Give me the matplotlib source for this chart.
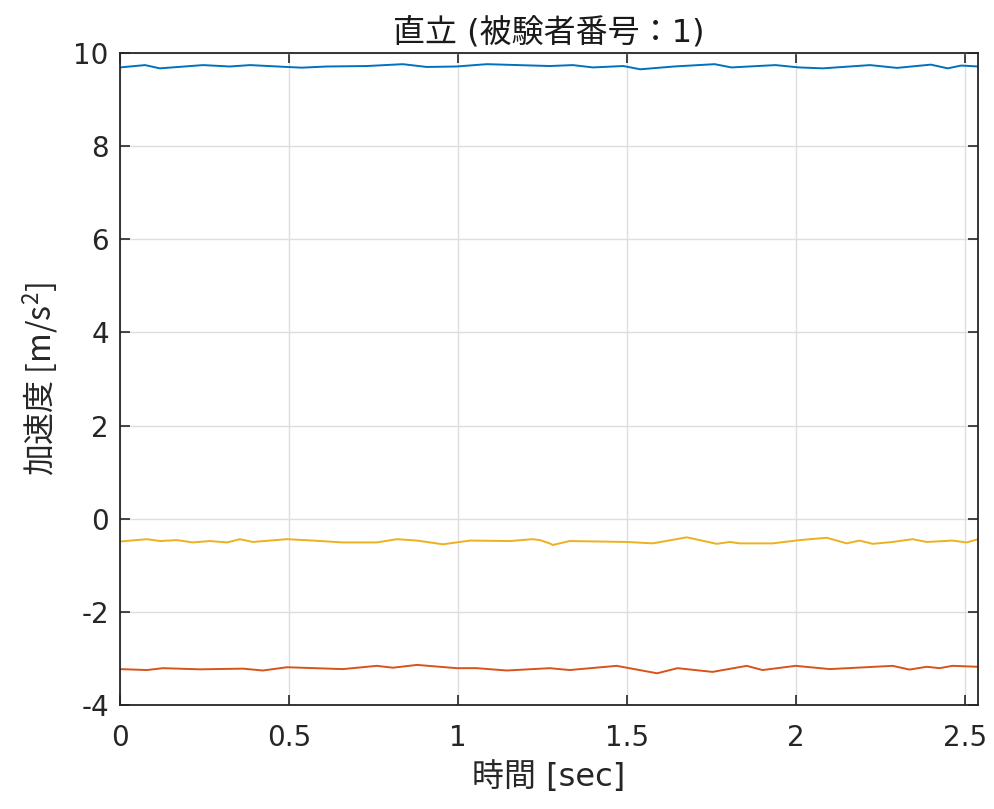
import matplotlib
matplotlib.use("Agg")
from matplotlib import pyplot as plt

plt.rcParams['font.family'] = ['DejaVu Sans', 'Noto Sans CJK JP']
plt.rcParams['axes.unicode_minus'] = False
# mathtext has no font fallback, so the y label (with a superscript) uses the CJK face throughout
plt.rcParams['mathtext.fontset'] = 'custom'
plt.rcParams['mathtext.rm'] = 'Noto Sans CJK JP'
plt.rcParams['mathtext.it'] = 'Noto Sans CJK JP'

### accelerometer samples, standing posture (subject 1)
t_1 = [0.00, 0.074, 0.118, 0.246, 0.325, 0.385, 0.494, 0.538, 0.612, 0.731,
       0.837, 0.908, 0.997, 1.086, 1.272, 1.34, 1.40, 1.49, 1.54, 1.64,
       1.76, 1.81, 1.94, 2.01, 2.08, 2.22, 2.30, 2.40, 2.45, 2.49, 2.54]
acc_1 = [9.69, 9.74, 9.67, 9.74, 9.71, 9.74, 9.70, 9.685, 9.71, 9.72,
         9.76, 9.70, 9.71, 9.76, 9.72, 9.74, 9.69, 9.72, 9.65, 9.71,
         9.76, 9.69, 9.74, 9.69, 9.67, 9.74, 9.68, 9.75, 9.67, 9.73, 9.71]

t_2 = [0.00, 0.080, 0.127, 0.237, 0.364, 0.423, 0.494, 0.660, 0.760, 0.808,
       0.879, 0.997, 1.056, 1.145, 1.272, 1.331, 1.47, 1.59, 1.65, 1.754,
       1.855, 1.902, 2.00, 2.101, 2.287, 2.337, 2.388, 2.426, 2.464, 2.54]
acc_2 = [-3.23, -3.25, -3.21, -3.235, -3.22, -3.26, -3.19, -3.23, -3.16, -3.20,
         -3.14, -3.21, -3.21, -3.26, -3.21, -3.25, -3.16, -3.32, -3.21, -3.29,
         -3.16, -3.25, -3.16, -3.23, -3.16, -3.24, -3.18, -3.21, -3.16, -3.18]

t_3 = [0.00, 0.080, 0.118, 0.169, 0.216, 0.266, 0.317, 0.355, 0.393, 0.494,
       0.571, 0.660, 0.760, 0.820, 0.879, 0.956, 1.036, 1.154, 1.222, 1.243,
       1.272, 1.281, 1.331, 1.50, 1.577, 1.678, 1.766, 1.805, 1.834, 1.932,
       2.012, 2.092, 2.151, 2.189, 2.228, 2.287, 2.346, 2.388, 2.464, 2.506, 2.54]
acc_3 = [-0.49, -0.44, -0.48, -0.46, -0.51, -0.48, -0.51, -0.44, -0.50, -0.44,
         -0.47, -0.51, -0.51, -0.44, -0.47, -0.55, -0.47, -0.48, -0.44, -0.46,
         -0.53, -0.565, -0.48, -0.50, -0.53, -0.40, -0.54, -0.50, -0.53, -0.53,
         -0.46, -0.41, -0.53, -0.47, -0.54, -0.50, -0.44, -0.50, -0.47, -0.51, -0.44]

x_ticks = [0, 0.5, 1, 1.5, 2, 2.5]
y_ticks = [-4, -2, 0, 2, 4, 6, 8, 10]

fig = plt.figure(figsize=(9.94, 8.09), dpi=100)
ax = fig.add_axes([0.1207, 0.1286, 0.8633, 0.8059])

ax.plot(t_1, acc_1, color='#0072BD', lw=1.4)
ax.plot(t_2, acc_2, color='#D95319', lw=1.4)
ax.plot(t_3, acc_3, color='#EDB120', lw=1.4)

ax.set_xlim(0, 2.54)
ax.set_ylim(-4, 10)
ax.set_xticks(x_ticks)
ax.set_xticklabels(['0', '0.5', '1', '1.5', '2', '2.5'])
ax.set_yticks(y_ticks)

### MATLAB-like box, inward ticks and light grid
ax.grid(True, color='#dedede', lw=1)
ax.set_axisbelow(True)
for s in ax.spines.values():
    s.set_color('#262626')
    s.set_linewidth(1.3)
ax.tick_params(direction='in', length=7, width=1.2, colors='#262626',
               labelsize=20, top=True, right=True)
ax.tick_params(axis='x', pad=14)
ax.tick_params(axis='y', pad=8)

ax.set_xlabel('時間 [sec]', fontsize=23, color='#262626', labelpad=6)
ax.set_ylabel('加速度 [m/s$^2$]', fontsize=23, color='#262626', labelpad=10,
              family='Noto Sans CJK JP')
ax.set_title('直立 (被験者番号：1)', fontsize=23, color='#1a1a1a', pad=8)

plt.savefig('out.png', dpi=100)
